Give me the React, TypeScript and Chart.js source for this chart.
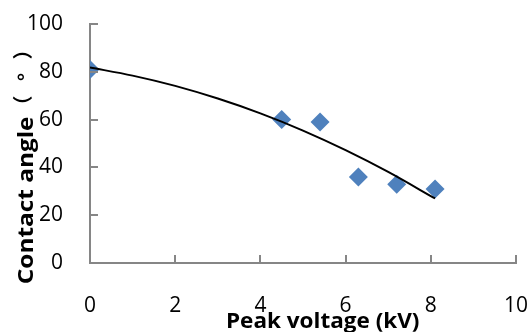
import React, { useEffect, useRef } from "react";
import { Chart, registerables } from "chart.js";

Chart.register(...registerables);

const voltages = [0, 4.5, 5.4, 6.3, 7.2, 8.1];
const angles = [81, 60, 59, 36, 33, 31];
const trendX = [0, 1, 2, 3, 4, 5, 6, 7, 8.1];
const trendY = [81.8, 78.4, 74.1, 68.8, 62.6, 55.4, 47.2, 38.1, 27.0];
const xTicks = [0, 2, 4, 6, 8, 10];
const yTicks = [0, 20, 40, 60, 80, 100];
const xTitle = "Peak voltage (kV)";
const yTitleLatin = "Contact angle";
const yTitleCJK = ["（", "°", "）"];

const AXIS = "#868686";
const FONT = "'Open Sans', 'DejaVu Sans', sans-serif";
const CJK = "'Noto Sans CJK SC', 'Noto Sans CJK JP', sans-serif";

const innerTicks = {
  id: "innerTicks",
  afterDraw(chart: any) {
    const ctx = chart.ctx;
    const { left, bottom } = chart.chartArea;
    const xs = chart.scales.x;
    const ys = chart.scales.y;
    ctx.save();
    ctx.strokeStyle = AXIS;
    ctx.lineWidth = 2;
    ctx.beginPath();
    for (const v of xTicks) {
      const px = Math.round(xs.getPixelForValue(v));
      ctx.moveTo(px, bottom);
      ctx.lineTo(px, bottom - 8);
    }
    for (const v of yTicks) {
      const py = Math.round(ys.getPixelForValue(v));
      ctx.moveTo(left, py);
      ctx.lineTo(left + 8, py);
    }
    ctx.stroke();
    ctx.restore();

    // x title
    ctx.save();
    ctx.fillStyle = "#000";
    ctx.font = `bold 22px ${FONT}`;
    ctx.textAlign = "left";
    ctx.textBaseline = "alphabetic";
    const xm = ctx.measureText(xTitle);
    const xw = xm.actualBoundingBoxRight + xm.actualBoundingBoxLeft;
    ctx.translate(227, 328);
    ctx.scale(192 / xw, 1);
    ctx.fillText(xTitle, xm.actualBoundingBoxLeft, 0);
    ctx.restore();

    // y title
    ctx.save();
    ctx.fillStyle = "#000";
    ctx.textAlign = "left";
    ctx.textBaseline = "alphabetic";
    ctx.translate(33, 283);
    ctx.rotate(-Math.PI / 2);
    ctx.font = `bold 21px ${FONT}`;
    const ym = ctx.measureText(yTitleLatin);
    const yw = ym.actualBoundingBoxRight + ym.actualBoundingBoxLeft;
    ctx.save();
    ctx.scale(166 / yw, 1);
    ctx.fillText(yTitleLatin, ym.actualBoundingBoxLeft, 0);
    ctx.restore();
    ctx.font = `bold 20px ${CJK}`;
    const targets = [184, 206, 227];
    yTitleCJK.forEach((ch, i) => {
      const m = ctx.measureText(ch);
      const inkC = (m.actualBoundingBoxRight - m.actualBoundingBoxLeft) / 2;
      const shift = i === 1 ? 0 : -3;
      ctx.fillText(ch, targets[i] - inkC, shift);
    });
    ctx.restore();
  },
};

export default function App() {
  const ref = useRef<HTMLCanvasElement>(null);
  useEffect(() => {
    document.body.style.margin = "0";
    const chart = new Chart(ref.current!, {
      type: "scatter",
      data: {
        datasets: [
          {
            type: "line",
            data: trendX.map((x, i) => ({ x, y: trendY[i] })),
            borderColor: "#000",
            borderWidth: 2,
            pointRadius: 0,
            tension: 0.4,
            cubicInterpolationMode: "monotone",
            fill: false,
            order: 1,
          } as any,
          {
            data: voltages.map((x, i) => ({ x, y: angles[i] })),
            pointStyle: "rectRot",
            pointRadius: 9.5,
            backgroundColor: "#4F81BD",
            borderColor: "#4F81BD",
            borderWidth: 0,
            order: 2,
          },
        ],
      },
      options: {
        animation: false,
        responsive: false,
        maintainAspectRatio: false,
        layout: { padding: { top: 24, right: 15, left: 0, bottom: 0 } },
        plugins: { legend: { display: false }, tooltip: { enabled: false } },
        scales: {
          x: {
            type: "linear",
            min: 0,
            max: 10,
            afterFit: (s: any) => { s.height = 69; s.paddingLeft = 0; s.paddingRight = 0; },
            afterBuildTicks: (s: any) => { s.ticks = xTicks.map((v) => ({ value: v })); },
            grid: { display: true, drawOnChartArea: false, drawTicks: false },
            border: { color: AXIS, width: 2 },
            ticks: { color: "#000", font: { family: FONT, size: 21 }, padding: 30, maxRotation: 0 },
          },
          y: {
            min: 0,
            max: 100,
            afterFit: (s: any) => { s.width = 90; s.paddingTop = 0; s.paddingBottom = 0; },
            afterBuildTicks: (s: any) => { s.ticks = yTicks.map((v) => ({ value: v })); },
            grid: { display: true, drawOnChartArea: false, drawTicks: false },
            border: { color: AXIS, width: 2 },
            ticks: { color: "#000", font: { family: FONT, size: 21 }, padding: 27 },
          },
        },
      },
      plugins: [innerTicks],
    });
    return () => chart.destroy();
  }, []);
  return <canvas ref={ref} width={531} height={332} style={{ display: "block" }} />;
}
